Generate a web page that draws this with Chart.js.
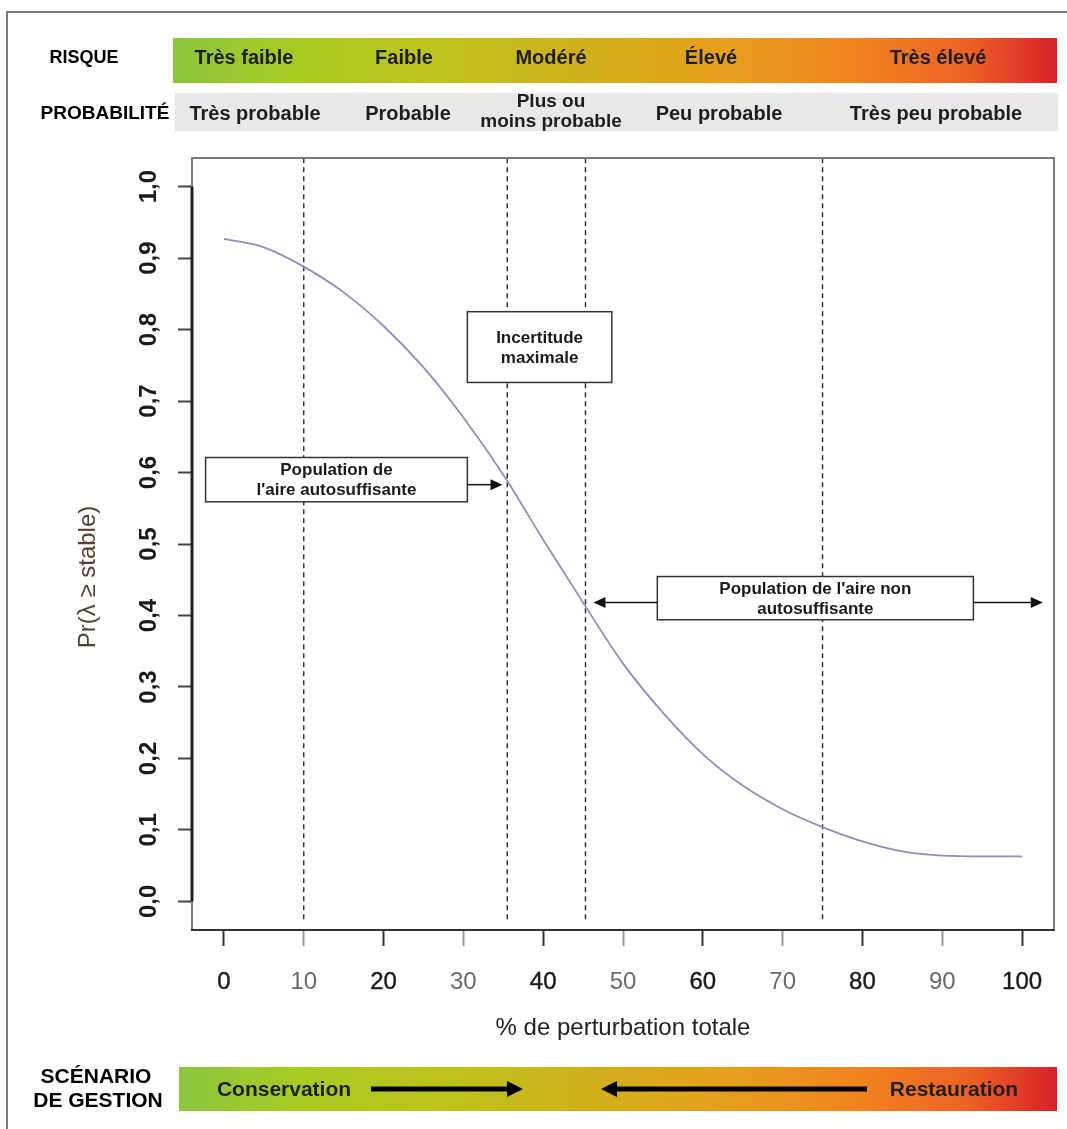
<!DOCTYPE html>
<html>
<head>
<meta charset="utf-8">
<script src="https://cdn.jsdelivr.net/npm/chart.js@4.4.1/dist/chart.umd.min.js"></script>
<style>
html,body{margin:0;padding:0;background:#fff;overflow:hidden}
#wrap{width:1067px;height:1129px;position:relative}
</style>
</head>
<body>
<div id="wrap"><canvas id="c"></canvas></div>
<script>
// ---- data ----
const perturbation = [0, 5, 10, 15, 20, 25, 30, 35, 40, 45, 50, 55, 60, 65, 70, 75, 80, 85, 90, 95, 100];
const prStable = [0.927, 0.915, 0.888, 0.852, 0.805, 0.747, 0.677, 0.597, 0.506, 0.418, 0.333, 0.264, 0.206, 0.162, 0.129, 0.104, 0.084, 0.070, 0.064, 0.063, 0.063];
const thresholds = [10, 35.5, 45.3, 75];
const xTickValues = [0, 10, 20, 30, 40, 50, 60, 70, 80, 90, 100];
const yTickValues = [0, 0.1, 0.2, 0.3, 0.4, 0.5, 0.6, 0.7, 0.8, 0.9, 1.0];
const riskLabels = ['Très faible', 'Faible', 'Modéré', 'Élevé', 'Très élevé'];
const probLabels = [['Très probable'], ['Probable'], ['Plus ou', 'moins probable'], ['Peu probable'], ['Très peu probable']];
const scenarioLabels = ['Conservation', 'Restauration'];
const annotationTexts = [['Population de', "l'aire autosuffisante"], ['Incertitude', 'maximale'], ["Population de l'aire non", 'autosuffisante']];

const FF = '"Liberation Sans", Arial, Helvetica, sans-serif';

function gradientBar(ctx, x0, y0, x1, y1) {
  const g = ctx.createLinearGradient(x0, 0, x1, 0);
  g.addColorStop(0, '#8cc63f');
  g.addColorStop(0.14, '#a8cb22');
  g.addColorStop(0.3, '#bec31c');
  g.addColorStop(0.45, '#ceb21c');
  g.addColorStop(0.62, '#e6a01d');
  g.addColorStop(0.78, '#f1821f');
  g.addColorStop(0.9, '#ec6224');
  g.addColorStop(1, '#d8202a');
  ctx.fillStyle = g;
  ctx.fillRect(x0, y0, x1 - x0, y1 - y0);
}
function thickArrow(ctx, xFrom, xTo, y, lw, head, half) {
  const dir = xTo > xFrom ? 1 : -1;
  ctx.strokeStyle = '#000'; ctx.fillStyle = '#000'; ctx.lineWidth = lw;
  ctx.beginPath(); ctx.moveTo(xFrom, y); ctx.lineTo(xTo - dir * head * 0.8, y); ctx.stroke();
  ctx.beginPath(); ctx.moveTo(xTo, y); ctx.lineTo(xTo - dir * head, y - half); ctx.lineTo(xTo - dir * head, y + half); ctx.closePath(); ctx.fill();
}

const decorPlugin = {
  id: 'decor',
  beforeDraw(chart) {
    const ctx = chart.ctx;
    ctx.save();
    ctx.fillStyle = '#fff';
    ctx.fillRect(0, 0, chart.width, chart.height);
    // frame
    ctx.strokeStyle = '#7a7a7a'; ctx.lineWidth = 2;
    ctx.beginPath(); ctx.moveTo(7, 1129); ctx.lineTo(7, 12); ctx.lineTo(1067, 12); ctx.stroke();
    // risk bar
    gradientBar(ctx, 173, 38, 1057, 83);
    ctx.fillStyle = '#e8e8e8';
    ctx.fillRect(175, 93, 1058 - 175, 131 - 93);
    ctx.textAlign = 'center'; ctx.textBaseline = 'middle';
    ctx.fillStyle = '#000';
    ctx.font = 'bold 18px ' + FF;
    ctx.fillText('RISQUE', 84, 58);
    ctx.font = 'bold 19px ' + FF;
    ctx.fillText('PROBABILITÉ', 105, 114);
    const riskX = [244, 404, 551, 711, 938];
    ctx.fillStyle = '#1e1e1e';
    ctx.font = 'bold 20px ' + FF;
    riskLabels.forEach((t, i) => ctx.fillText(t, riskX[i], 58));
    const probX = [255, 408, 551, 719, 936];
    probLabels.forEach((lines, i) => {
      if (lines.length === 1) ctx.fillText(lines[0], probX[i], 114);
      else {
        ctx.font = 'bold 19px ' + FF;
        ctx.fillText(lines[0], probX[i], 102); ctx.fillText(lines[1], probX[i], 122);
        ctx.font = 'bold 20px ' + FF;
      }
    });
    // scenario bar
    gradientBar(ctx, 179, 1067, 1057, 1111);
    ctx.fillStyle = '#000';
    ctx.font = 'bold 21px ' + FF;
    ctx.fillText('SCÉNARIO', 96, 1077);
    ctx.fillText('DE GESTION', 98, 1101);
    ctx.fillStyle = '#1e1e1e';
    ctx.fillText(scenarioLabels[0], 284, 1090);
    ctx.fillText(scenarioLabels[1], 954, 1090);
    thickArrow(ctx, 371, 523, 1089, 5, 16, 8);
    thickArrow(ctx, 867, 601, 1089, 5, 16, 8);
    ctx.restore();
  },
  afterDatasetsDraw(chart) {
    const ctx = chart.ctx;
    const xs = chart.scales.x, ys = chart.scales.y;
    const px = v => xs.getPixelForValue(v), py = v => ys.getPixelForValue(v);
    ctx.save();
    const boxes = [
      {x0: -2.3, x1: 30.5, y0: 0.621, y1: 0.559, t: annotationTexts[0]},
      {x0: 30.5, x1: 48.6, y0: 0.825, y1: 0.726, t: annotationTexts[1]},
      {x0: 54.3, x1: 93.9, y0: 0.4545, y1: 0.394, t: annotationTexts[2]}
    ];
    boxes.forEach(b => {
      const L = px(b.x0), R = px(b.x1), T = py(b.y0), B = py(b.y1);
      ctx.fillStyle = '#fff';
      ctx.fillRect(L, T, R - L, B - T);
      ctx.strokeStyle = '#333'; ctx.lineWidth = 1.5;
      ctx.strokeRect(L, T, R - L, B - T);
      ctx.fillStyle = '#1a1a1a';
      ctx.font = 'bold 17px ' + FF;
      ctx.textAlign = 'center'; ctx.textBaseline = 'middle';
      const cx = (L + R) / 2, cy = (T + B) / 2 + 1;
      ctx.fillText(b.t[0], cx, cy - 10);
      ctx.fillText(b.t[1], cx, cy + 10);
    });
    // thin arrows
    function thin(x0, x1, y) {
      const X0 = px(x0), X1 = px(x1), Y = py(y);
      const dir = X1 > X0 ? 1 : -1;
      ctx.strokeStyle = '#111'; ctx.fillStyle = '#111'; ctx.lineWidth = 1.5;
      ctx.beginPath(); ctx.moveTo(X0, Y); ctx.lineTo(X1 - dir * 8, Y); ctx.stroke();
      ctx.beginPath(); ctx.moveTo(X1, Y); ctx.lineTo(X1 - dir * 12, Y - 5.5); ctx.lineTo(X1 - dir * 12, Y + 5.5); ctx.closePath(); ctx.fill();
    }
    thin(30.5, 34.9, 0.583);
    thin(54.3, 46.3, 0.418);
    thin(93.9, 102.6, 0.418);
    ctx.restore();
  },
  afterDraw(chart) {
    const ctx = chart.ctx;
    const a = chart.chartArea;
    const xs = chart.scales.x, ys = chart.scales.y;
    ctx.save();
    ctx.strokeStyle = '#7a7a7a'; ctx.lineWidth = 2;
    ctx.beginPath();
    ctx.moveTo(a.left, a.bottom); ctx.lineTo(a.left, a.top); ctx.lineTo(a.right, a.top); ctx.lineTo(a.right, a.bottom);
    ctx.stroke();
    ctx.strokeStyle = '#333'; ctx.lineWidth = 2;
    ctx.beginPath(); ctx.moveTo(a.left - 1, a.bottom); ctx.lineTo(a.right + 1, a.bottom); ctx.stroke();
    ctx.strokeStyle = '#222'; ctx.lineWidth = 3;
    ctx.beginPath(); ctx.moveTo(a.left, ys.getPixelForValue(0)); ctx.lineTo(a.left, ys.getPixelForValue(1)); ctx.stroke();
    // y title
    ctx.translate(88, 577);
    ctx.rotate(-Math.PI / 2);
    ctx.fillStyle = '#553f30';
    ctx.font = '24px ' + FF;
    ctx.textAlign = 'center'; ctx.textBaseline = 'middle';
    ctx.fillText('Pr(λ ≥ stable)', 0, 0);
    ctx.restore();
  }
};

const datasets = [{
  label: 'Pr(λ ≥ stable)',
  data: perturbation.map((x, i) => ({x: x, y: prStable[i]})),
  borderColor: '#8c8cc6',
  borderWidth: 1.8,
  pointRadius: 0,
  cubicInterpolationMode: 'monotone',
  fill: false,
  order: 0
}];
thresholds.forEach(t => datasets.push({
  label: 'seuil ' + t,
  data: [{x: t, y: -0.025}, {x: t, y: 1.04}],
  borderColor: '#333',
  borderWidth: 1.5,
  borderDash: [5, 4],
  pointRadius: 0,
  fill: false,
  order: 1
}));

new Chart(document.getElementById('c'), {
  type: 'line',
  data: {datasets: datasets},
  plugins: [decorPlugin],
  options: {
    responsive: true,
    maintainAspectRatio: false,
    animation: false,
    layout: {padding: {left: 0, top: 158, right: 13, bottom: 0}},
    plugins: {legend: {display: false}, tooltip: {enabled: false}},
    scales: {
      x: {
        type: 'linear',
        min: -4, max: 104,
        afterBuildTicks: s => { s.ticks = xTickValues.map(v => ({value: v})); },
        afterFit: s => { s.height = 199; },
        border: {display: false},
        grid: {
          drawOnChartArea: false, drawTicks: true, tickLength: 16, tickWidth: 2,
          tickColor: c => (c.index % 2 === 0 ? '#333' : '#999')
        },
        ticks: {
          autoSkip: false, maxRotation: 0, minRotation: 0, padding: 22,
          color: c => (c.index % 2 === 0 ? '#1a1a1a' : '#6a6a6a'),
          textStrokeColor: c => (c.index % 2 === 0 ? '#1a1a1a' : '#6a6a6a'),
          textStrokeWidth: c => (c.index % 2 === 0 ? 0.4 : 0),
          font: {family: FF, size: 24},
          callback: v => String(v)
        },
        title: {
          display: true, text: '% de perturbation totale', color: '#222',
          font: {family: FF, size: 24}, padding: {top: 0, bottom: 86}
        }
      },
      y: {
        type: 'linear',
        min: -0.04, max: 1.04,
        afterBuildTicks: s => { s.ticks = yTickValues.map(v => ({value: v})); },
        afterFit: s => { s.width = 192; },
        border: {display: false},
        grid: {drawOnChartArea: false, drawTicks: true, tickLength: 14, tickWidth: 2, tickColor: '#444'},
        ticks: {
          autoSkip: false, minRotation: 90, maxRotation: 90, crossAlign: 'center', padding: 12,
          color: '#1a1a1a',
          font: {family: FF, size: 24, weight: 'bold'},
          callback: v => v.toFixed(1).replace('.', ',')
        },
        title: {display: false}
      }
    }
  }
});
</script>
</body>
</html>
